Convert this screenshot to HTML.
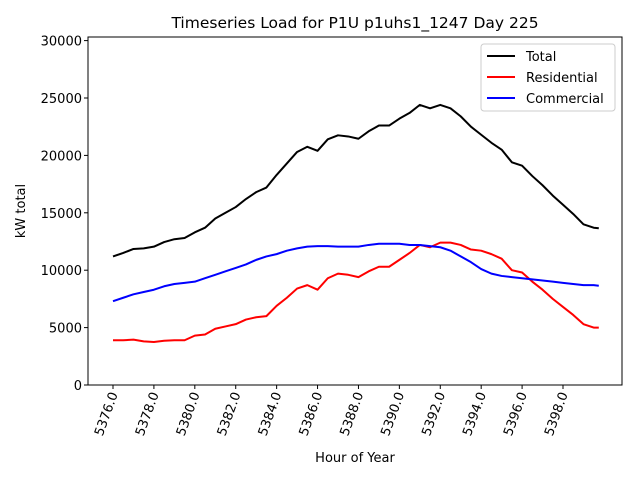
<!DOCTYPE html>
<html><head><meta charset="utf-8"><style>body{margin:0;background:#fff}svg{display:block;font-family:"DejaVu Sans","Liberation Sans",sans-serif}</style></head>
<body>
<svg id="c" width="640" height="480"></svg>
<script>
const xs=[];for(let i=0;i<48;i++)xs.push(5376+i*0.5);xs.push(5399.75);
const residential=[3900,3900,3950,3800,3750,3850,3900,3900,4300,4400,4900,5100,5300,5700,5900,6000,6900,7600,8400,8700,8300,9300,9700,9600,9400,9900,10300,10300,10900,11500,12200,12000,12400,12400,12200,11800,11700,11400,11000,10000,9800,9000,8300,7500,6800,6100,5300,5000,5000];
const commercial=[7300,7600,7900,8100,8300,8600,8800,8900,9000,9300,9600,9900,10200,10500,10900,11200,11400,11700,11900,12050,12100,12100,12050,12050,12050,12200,12300,12300,12300,12200,12200,12100,12000,11700,11200,10700,10100,9700,9500,9400,9300,9200,9100,9000,8900,8800,8700,8700,8650];
const total=[11200,11500,11850,11900,12050,12450,12700,12800,13300,13700,14500,15000,15500,16200,16800,17200,18300,19300,20300,20750,20400,21400,21750,21650,21450,22100,22600,22600,23200,23700,24400,24100,24400,24100,23400,22500,21800,21100,20500,19400,19100,18200,17400,16500,15700,14900,14000,13700,13650];
const xTicks=[5376,5378,5380,5382,5384,5386,5388,5390,5392,5394,5396,5398];
const yTicks=[0,5000,10000,15000,20000,25000,30000];
const L=88,R=622,T=37,B=385;
const X=v=>113+(v-5376)*(450/22);
const Y=v=>385-v*(57.4/5000);
const s=document.getElementById('c');const NS='http://www.w3.org/2000/svg';
function mk(t,a,txt){const e=document.createElementNS(NS,t);for(const k in a)e.setAttribute(k,a[k]);if(txt!==undefined)e.textContent=txt;s.appendChild(e);return e;}
let e;
e=mk('rect',{x:L,y:T,width:R-L,height:B-T,fill:'none',stroke:'#000','stroke-width':1});


xTicks.forEach(t=>{const x=X(t);
e=mk('line',{x1:x,x2:x,y1:B,y2:B+4,stroke:'#000'});


e=mk('text',{x:0,y:0,'font-size':13,'text-anchor':'end',transform:`translate(${x+5},${B+9}) rotate(-70)`},t.toFixed(1));

});
yTicks.forEach(t=>{const y=Y(t);
e=mk('line',{x1:L-4,x2:L,y1:y,y2:y,stroke:'#000'});


e=mk('text',{x:L-6,y:y+5,'font-size':13,'text-anchor':'end'},t);

});
function line(arr,col,name){e=mk('polyline',{points:arr.map((v,i)=>X(xs[i])+','+Y(v)).join(' '),fill:'none',stroke:col,'stroke-width':2,'stroke-linejoin':'round'});

}
line(total,'#000','total-line');line(residential,'#f00','residential-line');line(commercial,'#00f','commercial-line');
e=mk('text',{x:355,y:28,'font-size':15.5,'text-anchor':'middle'},'Timeseries Load for P1U p1uhs1_1247  Day 225');


e=mk('text',{x:355,y:462,'font-size':13,'text-anchor':'middle'},'Hour of Year');


e=mk('text',{x:0,y:0,'font-size':13,'text-anchor':'middle',transform:'translate(25,211) rotate(-90)'},'kW total');


e=mk('rect',{x:481,y:44,width:134,height:67,rx:3,fill:'#fff',stroke:'#ccc'});


[['Total','#000'],['Residential','#f00'],['Commercial','#00f']].forEach((d,i)=>{const y=56+i*21;
e=mk('line',{x1:487,x2:515,y1:y,y2:y,stroke:d[1],'stroke-width':2});


e=mk('text',{x:526,y:y+5,'font-size':13},d[0]);

});
</script>
</body></html>
